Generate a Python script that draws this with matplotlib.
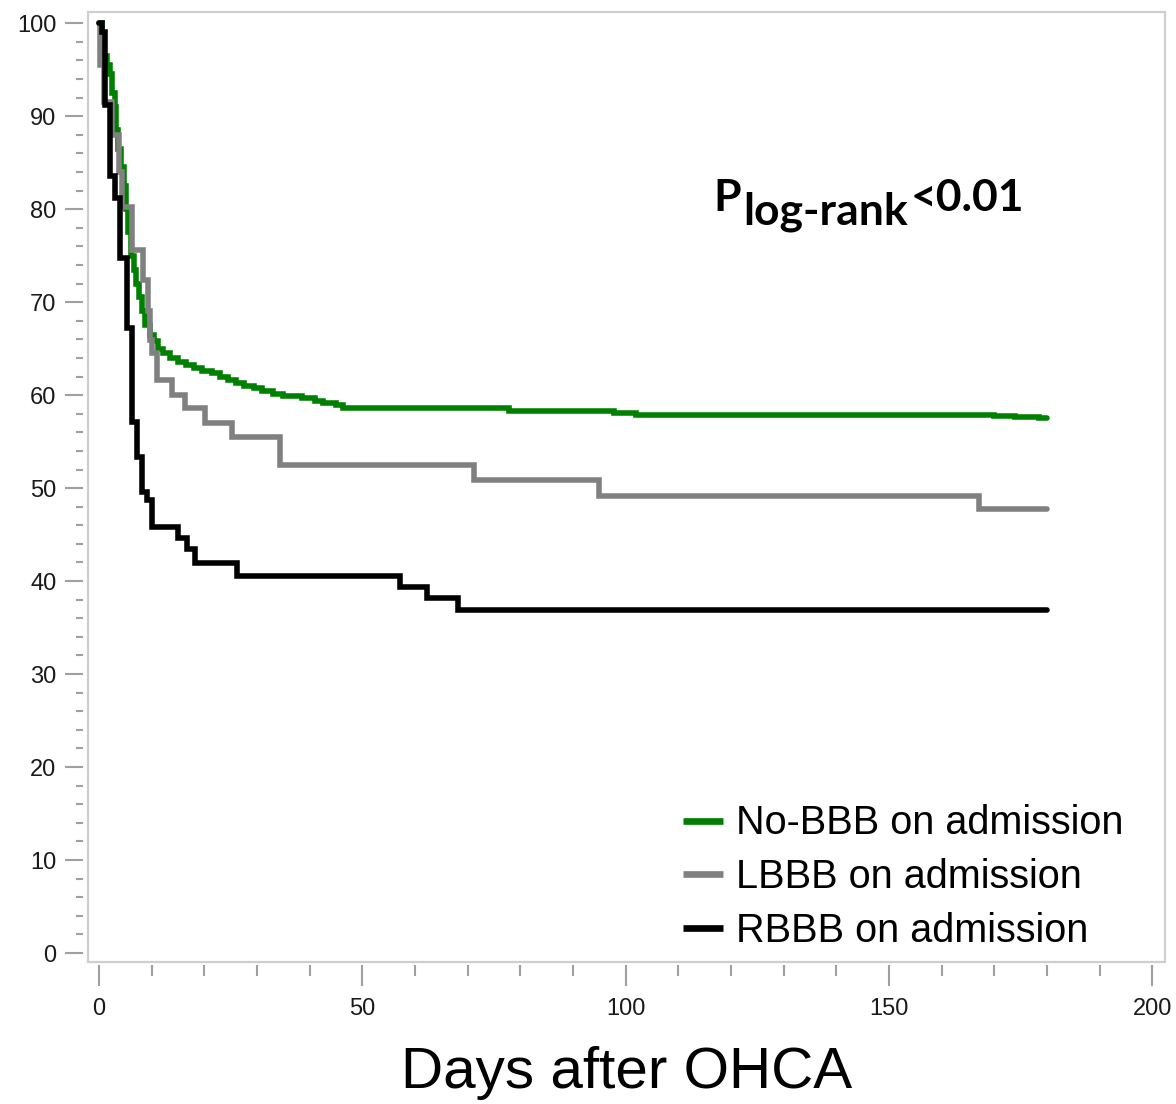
import matplotlib.pyplot as plt
from matplotlib.patches import Rectangle
from matplotlib.ticker import MultipleLocator
import numpy as np

# Kaplan-Meier survival (%), step changes (day, value)
follow_up_end = 180

nobbb_days = [0, 0.5, 1.0, 1.5, 2.0, 2.5, 3.0, 3.3, 3.7, 4.2, 4.7, 5.1, 5.5, 6.0,
              6.6, 7.1, 7.6, 8.2, 8.8, 9.6, 10.4, 11.2, 12.2, 13.5, 15.0, 16.5,
              18.0, 19.5, 21.5, 23.0, 24.5, 26.0, 27.5, 29.5, 31.0, 33.0, 35.0,
              38.5, 41.0, 42.5, 45.0, 46.3, 77.9, 97.8, 102.0, 170.0, 174.0, 178.5]
nobbb_surv = [100, 98.0, 96.5, 95.5, 94.5, 92.5, 91.0, 88.5, 86.5, 84.5, 82.5, 80.0,
              77.5, 75.0, 73.5, 72.0, 70.5, 69.0, 67.5, 66.5, 65.8, 65.0, 64.5, 64.0,
              63.6, 63.2, 62.9, 62.6, 62.4, 62.0, 61.6, 61.3, 61.0, 60.8, 60.4, 60.1,
              59.9, 59.7, 59.4, 59.1, 58.9, 58.6, 58.3, 58.1, 57.9, 57.8, 57.7, 57.5]

lbbb_days = [0, 0.2, 1.0, 2.5, 3.8, 4.4, 6.3, 8.4, 9.3, 9.7, 10.1, 11.0, 13.9,
             16.3, 20.1, 25.3, 34.4, 71.2, 95.0, 167.0]
lbbb_surv = [100, 95.5, 91.5, 88.0, 84.0, 80.2, 75.6, 72.4, 69.0, 65.9, 64.5, 61.6,
             60.0, 58.6, 57.0, 55.5, 52.5, 50.9, 49.2, 47.8]

rbbb_days = [0, 0.6, 1.1, 2.1, 3.0, 4.0, 5.3, 6.3, 7.2, 8.2, 9.1, 10.1, 15.0,
             16.7, 18.2, 26.2, 57.2, 62.3, 68.2]
rbbb_surv = [100, 99.0, 91.2, 83.6, 81.2, 74.7, 67.2, 57.1, 53.3, 49.6, 48.7, 45.8,
             44.6, 43.5, 41.9, 40.6, 39.4, 38.2, 36.9]

groups = ['No-BBB on admission', 'LBBB on admission', 'RBBB on admission']
colors = ['#008000', '#808080', '#000000']

fig = plt.figure(figsize=(11.76, 11.04), dpi=100)
ax = fig.add_axes([0.0748, 0.1286, 0.9158, 0.8605])

for days, surv, name, c in zip([nobbb_days, lbbb_days, rbbb_days],
                               [nobbb_surv, lbbb_surv, rbbb_surv], groups, colors):
    x = np.append(days, follow_up_end)
    y = np.append(surv, surv[-1])
    ax.step(x, y, where='post', color=c, linewidth=4.0, label=name,
            solid_capstyle='round', solid_joinstyle='miter')

ax.set_xlim(-2.09, 202.4)
ax.set_ylim(-0.97, 101.2)

# light frame, ticks sit outside it
for s in ax.spines.values():
    s.set_color('none')
ax.spines['left'].set_position(('outward', 3.6))
ax.spines['bottom'].set_position(('outward', 2.2))
ax.add_patch(Rectangle((0, 0), 1, 1, transform=ax.transAxes, fill=False,
                       edgecolor='#cfcfcf', linewidth=1.6, clip_on=False))

ax.xaxis.set_major_locator(MultipleLocator(50))
ax.xaxis.set_minor_locator(MultipleLocator(10))
ax.yaxis.set_major_locator(MultipleLocator(10))
ax.yaxis.set_minor_locator(MultipleLocator(2))
ax.tick_params(axis='x', which='major', length=15, width=1.5, color='#a0a0a0',
               pad=9, labelsize=17, labelcolor='#1a1a1a')
ax.tick_params(axis='x', which='minor', length=8, width=1.5, color='#a0a0a0')
ax.tick_params(axis='y', which='major', length=13, width=1.5, color='#a0a0a0',
               pad=6, labelsize=17, labelcolor='#1a1a1a')
ax.tick_params(axis='y', which='minor', length=5, width=1.5, color='#a0a0a0')
for lab in ax.get_xticklabels() + ax.get_yticklabels():
    lab.set_family('Liberation Sans')

ax.set_xlabel('Days after OHCA', fontsize=42, family='Liberation Sans', va='baseline')
ax.xaxis.set_label_coords(0.5, -0.1326)

leg = ax.legend(loc='lower left', bbox_to_anchor=(0.5525, 0.0126), frameon=False,
                prop={'family': 'Liberation Sans', 'size': 28.5}, borderpad=0,
                borderaxespad=0, handlelength=1.0, handletextpad=0.33,
                labelspacing=0.40)
for h in leg.legend_handles:
    h.set_linewidth(4.8)
    h.set_solid_capstyle('butt')

# P log-rank text: main, subscript, then back up
pfont = dict(family='Lato', weight='bold', size=32, color='black')
p = ax.text(116.6, 79.8, 'P', va='baseline', ha='left', **pfont)
sub = ax.annotate('log-rank', xy=(1, 0), xycoords=p, xytext=(3, -14),
                  textcoords='offset pixels', va='bottom', ha='left', **pfont)
ax.annotate('<0.01', xy=(1, 0), xycoords=sub, xytext=(2, 14),
            textcoords='offset pixels', va='bottom', ha='left', **pfont)

fig.savefig('out.png', dpi=100)
